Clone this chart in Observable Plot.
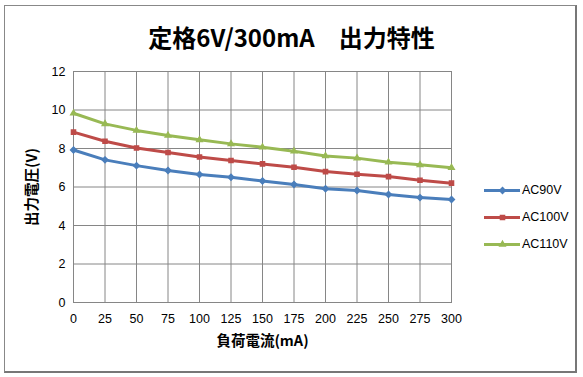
<!DOCTYPE html>
<html><head><meta charset="utf-8">
<script src="https://cdn.jsdelivr.net/npm/d3@7"></script>
<script src="https://cdn.jsdelivr.net/npm/@observablehq/plot@0.6"></script>
<style>
body{margin:0;background:#fff;}
#wrap{position:relative;width:583px;height:377px;overflow:hidden;font-family:"Liberation Sans",Arial,sans-serif;}
#frame{position:absolute;left:4px;top:5px;width:573px;height:368px;border:1px solid #888;box-sizing:border-box;border-right:2px solid #777;border-bottom:2px solid #777;}
#title{position:absolute;left:0;top:19px;width:583px;text-align:center;font-family:"Noto Sans CJK JP",sans-serif;font-weight:bold;font-size:24px;line-height:36px;color:#000;}
#plot{position:absolute;left:0;top:0;}
#legend{position:absolute;left:484px;top:176px;font-size:12.5px;color:#000;}
.li{display:flex;align-items:center;height:27px;}
.li svg{margin-right:2px;}
</style></head><body>
<div id="wrap"><div id="frame"></div><div id="plot"></div><div id="title">定格6V/300mA　出力特性</div><div id="legend"></div></div>
<script>
const currents = [0,25,50,75,100,125,150,175,200,225,250,275,300];
const seriesNames = ["AC90V","AC100V","AC110V"];
const ac90 = [7.92,7.41,7.11,6.86,6.65,6.51,6.31,6.13,5.91,5.82,5.61,5.45,5.35];
const ac100 = [8.85,8.38,8.03,7.79,7.56,7.38,7.2,7.03,6.8,6.66,6.54,6.35,6.2];
const ac110 = [9.83,9.28,8.94,8.68,8.45,8.24,8.07,7.86,7.61,7.5,7.29,7.15,7.0];
const yTicks = [0,2,4,6,8,10,12];
const colors = ["#4a7ebb","#be4b48","#98b954"];
const symbols = ["diamond2","square2","triangle2"];
const values = [ac90, ac100, ac110];
const data = [];
seriesNames.forEach((s,i)=>currents.forEach((c,j)=>data.push({s, c, v: values[i][j]})));

const plot = Plot.plot({
  width:583, height:377,
  marginLeft:73, marginRight:132, marginTop:71, marginBottom:75,
  style:{fontFamily:"Liberation Sans, Arial, sans-serif", fontSize:"12px", color:"#000", background:"transparent"},
  x:{domain:[0,300], ticks:currents, tickSize:0, tickPadding:12, label:null},
  y:{domain:[0,12], ticks:yTicks, tickSize:0, tickPadding:8, label:null},
  color:{domain:seriesNames, range:colors},
  symbol:{domain:seriesNames, range:symbols},
  marks:[
    Plot.gridX(currents,{stroke:"#868686", strokeOpacity:1, strokeWidth:1}),
    Plot.gridY(yTicks,{stroke:"#868686", strokeOpacity:1, strokeWidth:1}),
    Plot.frame({stroke:"#868686"}),
    Plot.axisX({ticks:currents, tickSize:0, tickPadding:12, label:null, fontSize:12.5}),
    Plot.axisY({ticks:yTicks, tickSize:0, tickPadding:8, label:null, fontSize:12.5}),
    Plot.line(data,{x:"c", y:"v", z:"s", stroke:"s", strokeWidth:3}),
    Plot.dot(data,{x:"c", y:"v", symbol:"s", fill:"s", stroke:"s", r:2.6}),
    Plot.text(["負荷電流(mA)"],{frameAnchor:"bottom", textAnchor:"middle", dy:43, text:d=>d, fontWeight:"bold", fontSize:14.5, fontFamily:"Noto Sans CJK JP, sans-serif"}),
    Plot.text(["出力電圧(V)"],{frameAnchor:"left", textAnchor:"middle", dx:-41, rotate:-90, text:d=>d, fontWeight:"bold", fontSize:14.5, fontFamily:"Noto Sans CJK JP, sans-serif"})
  ]
});
document.getElementById("plot").appendChild(plot);

const leg = document.getElementById("legend");
seriesNames.forEach((s,i)=>{
  const row = document.createElement("div"); row.className="li";
  const sw = Plot.plot({width:36,height:12,margin:0,x:{domain:[0,1],axis:null},y:{domain:[0,1],axis:null},
    marks:[Plot.ruleY([0.5],{stroke:colors[i],strokeWidth:3}),
           Plot.dot([0.5],{x:d=>d,y:0.5,symbol:symbols[i],fill:colors[i],stroke:colors[i],r:2.6})]});
  row.appendChild(sw);
  const t=document.createElement("span"); t.textContent=s; row.appendChild(t);
  leg.appendChild(row);
});
</script></body></html>
